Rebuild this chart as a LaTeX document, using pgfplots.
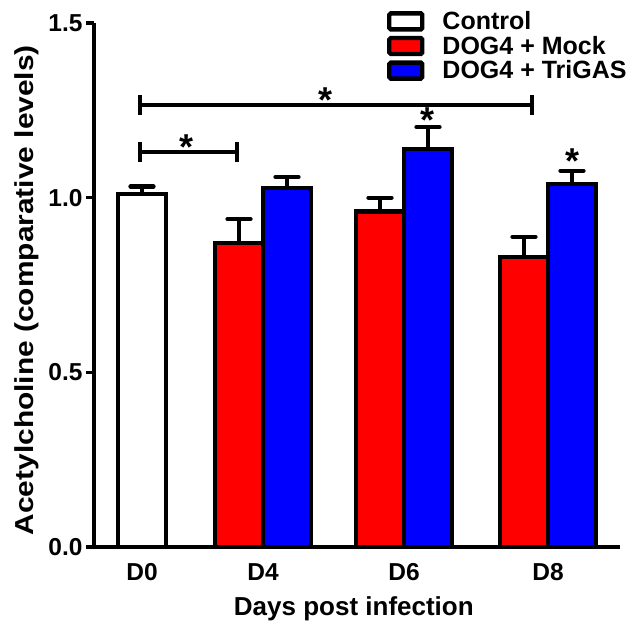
\documentclass[border=0pt]{standalone}
\usepackage{fontspec}
\setmainfont{Liberation Sans}
\usepackage{pgfplots}
\pgfplotsset{compat=1.18}
\definecolor{mockred}{RGB}{255,0,0}
\definecolor{trigasblue}{RGB}{0,0,255}
\begin{document}
\begin{tikzpicture}
\begin{axis}[
    scale only axis,
    width=526pt, height=524pt,
    xmin=0, xmax=526, ymin=0, ymax=1.5,
    axis x line=bottom, axis y line=left,
    axis line style={line width=4.3pt, -},
    ytick={0,0.5,1,1.5},
    yticklabel style={/pgf/number format/.cd, fixed, fixed zerofill, precision=1, assume math mode=true},
    y tick style={line width=3.5pt, black},
    tick align=outside, major tick length=8pt,
    xtick={48,169,310,454}, xticklabels={D0,D4,D6,D8},
    x tick style={draw=none},
    x tick label style={anchor=center, yshift=-17pt},
    tick label style={font=\fontsize{24.5}{27}\selectfont\bfseries},
    every axis x label/.style={at={([yshift=-62pt]axis description cs:0.494,0)}, anchor=center,
        font=\fontsize{26}{30}\selectfont\bfseries},
    every axis y label/.style={at={([xshift=-67pt]axis description cs:0,0.49)}, rotate=90, anchor=center,
        font=\fontsize{26}{30}\selectfont\bfseries},
    xlabel={Days post infection},
    ylabel={\scalebox{1.15}[1]{Acetylcholine (comparative levels)}},
    ybar, bar width=48,
    legend style={at={(0.557,1.026)}, anchor=north west, draw=none, fill=none,
        font=\fontsize{25}{27}\selectfont\bfseries, row sep=1pt, inner sep=0pt,
        /tikz/every odd column/.append style={column sep=16pt}},
    legend cell align=left,
    legend image code/.code={\draw[#1, line width=4.3pt, rounded corners=1.5pt] (0pt,-8pt) rectangle (33pt,8pt);},
    error bars/y dir=plus, error bars/y explicit,
    error bars/error bar style={line width=4.3pt, black},
    error bars/error mark options={rotate=90, line width=4.3pt, line cap=round, mark size=11.5pt, black},
]
\addplot[bar shift=0pt, draw=black, line width=4.3pt, fill=white]
    coordinates {(48,1.01) +- (0,0.022)};
\addplot[bar shift=0pt, draw=black, line width=4.3pt, fill=mockred]
    coordinates {(145,0.870) +- (0,0.069) (286,0.960) +- (0,0.040) (430,0.830) +- (0,0.058)};
\addplot[bar shift=0pt, draw=black, line width=4.3pt, fill=trigasblue]
    coordinates {(193,1.028) +- (0,0.031) (334,1.139) +- (0,0.063) (478,1.039) +- (0,0.038)};
\legend{Control, DOG4 + Mock, DOG4 + TriGAS}
% significance brackets
\draw[line width=4.3pt] (axis cs:46,1.265) -- (axis cs:438,1.265);
\draw[line width=4.3pt] (axis cs:46,1.236) -- (axis cs:46,1.294);
\draw[line width=4.3pt] (axis cs:438,1.236) -- (axis cs:438,1.294);
\draw[line width=4.3pt] (axis cs:46,1.131) -- (axis cs:143,1.131);
\draw[line width=4.3pt] (axis cs:46,1.102) -- (axis cs:46,1.160);
\draw[line width=4.3pt] (axis cs:143,1.102) -- (axis cs:143,1.160);
\begin{scope}[every node/.style={anchor=base, inner sep=0pt, font=\fontsize{36}{36}\selectfont\bfseries}]
\node at (axis cs:232,1.245) {*};
\node at (axis cs:93,1.110) {*};
\node at (axis cs:334,1.186) {*};
\node at (axis cs:478,1.070) {*};
\end{scope}
\end{axis}
\pgfresetboundingbox
\path[use as bounding box] ([shift={(-94pt,-77pt)}]current axis.south west)
    rectangle ([shift={(11pt,23pt)}]current axis.north east);
\end{tikzpicture}
\end{document}
